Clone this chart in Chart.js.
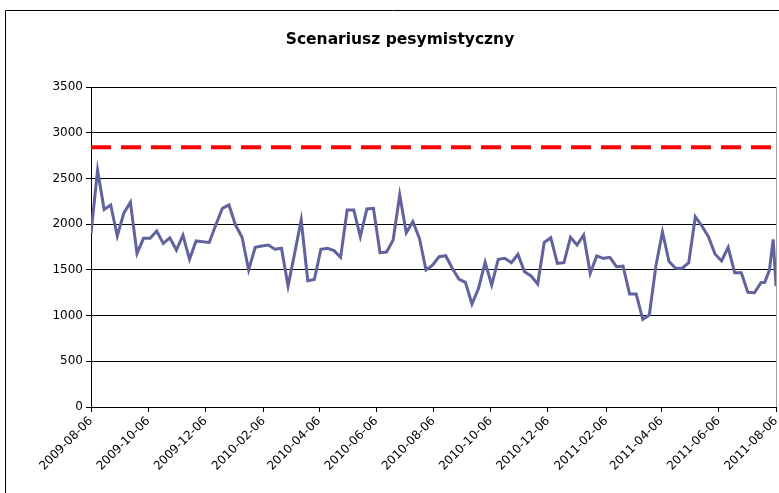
<!DOCTYPE html>
<html>
<head>
<meta charset="utf-8">
<script src="https://cdn.jsdelivr.net/npm/chart.js@4.4.1/dist/chart.umd.min.js"></script>
<style>
    html, body { margin: 0; padding: 0; background: #fff; }
    #wrap { width: 779px; height: 493px; position: relative; }
</style>
</head>
<body>
<div id="wrap"><canvas id="chart"></canvas></div>
<script>
const chartTitle = 'Scenariusz pesymistyczny';
const startDate = '2009-08-06';

// weekly values from 2009-08-06
const weeklyValues = [
    1900, 2590, 2160, 2210, 1870, 2120, 2240, 1680, 1845, 1845,
    1925, 1790, 1850, 1717, 1880, 1615, 1816, 1808, 1800, 1990,
    2173, 2210, 1990, 1856, 1498, 1747, 1761, 1772, 1725, 1736,
    1323, 1680, 2045, 1382, 1395, 1725, 1736, 1710, 1637, 2155,
    2155, 1863, 2166, 2173, 1688, 1695, 1827, 2319, 1907, 2027,
    1845, 1498, 1550, 1644, 1655, 1517, 1400, 1364, 1127, 1298,
    1583, 1334, 1615, 1626, 1579, 1670, 1480, 1433, 1345, 1800,
    1852, 1572, 1579, 1856, 1772, 1881, 1462, 1652, 1626, 1637,
    1535, 1542, 1236, 1236, 959, 1006, 1542, 1915, 1590, 1517,
    1517, 1579, 2081, 1980, 1863, 1673, 1597, 1747, 1469, 1469,
    1254, 1250, 1360,
];
// last few readings are not weekly
const tailDates = ['2011-07-25', '2011-07-30', '2011-08-03', '2011-08-06'];
const tailValues = [1364, 1498, 1834, 1323];

const limitValue = 2840;
const endDate = '2011-08-06';

const xTickLabels = [
    '2009-08-06', '2009-10-06', '2009-12-06', '2010-02-06', '2010-04-06',
    '2010-06-06', '2010-08-06', '2010-10-06', '2010-12-06', '2011-02-06',
    '2011-04-06', '2011-06-06', '2011-08-06',
];

const DAY = 86400000;
const toUtc = (s) => {
    const [y, m, d] = s.split('-').map(Number);
    return Date.UTC(y, m - 1, d);
};
const dayOf = (s) => Math.round((toUtc(s) - toUtc(startDate)) / DAY);

const series = weeklyValues.map((v, i) => ({ x: i * 7, y: v }))
    .concat(tailDates.map((d, i) => ({ x: dayOf(d), y: tailValues[i] })));

const limitLine = [
    { x: 0, y: limitValue },
    { x: dayOf(endDate), y: limitValue },
];

const tickFont = { family: '"DejaVu Sans", sans-serif', size: 12 };

const frame = {
    id: 'frame',
    beforeDraw(chart) {
        const { ctx, chartArea: a } = chart;
        ctx.save();
        ctx.fillStyle = '#fff';
        ctx.fillRect(0, 0, chart.width, chart.height);
        ctx.strokeStyle = '#000';
        ctx.lineWidth = 1;
        ctx.beginPath();
        ctx.moveTo(5.5, chart.height);
        ctx.lineTo(5.5, 10.5);
        ctx.lineTo(chart.width, 10.5);
        ctx.stroke();
        ctx.strokeStyle = '#a0a0a0';
        ctx.beginPath();
        ctx.moveTo(Math.round(a.right) + 0.5, a.top);
        ctx.lineTo(Math.round(a.right) + 0.5, a.bottom);
        ctx.stroke();
        ctx.fillStyle = '#000';
        ctx.font = 'bold 15.5px "DejaVu Sans", sans-serif';
        ctx.textAlign = 'center';
        ctx.textBaseline = 'middle';
        ctx.fillText(chartTitle, 400, 40);
        ctx.restore();
    },
};

new Chart(document.getElementById('chart'), {
    type: 'line',
    data: {
        datasets: [
            {
                data: series,
                borderColor: '#62629e',
                borderWidth: 3,
                pointRadius: 0,
                tension: 0,
            },
            {
                data: limitLine,
                borderColor: '#ff0000',
                borderWidth: 4,
                borderDash: [20, 10],
                pointRadius: 0,
            },
        ],
    },
    options: {
        responsive: true,
        maintainAspectRatio: false,
        animation: false,
        layout: { padding: { left: 6, right: 3, top: 87, bottom: 0 } },
        plugins: {
            legend: { display: false },
            tooltip: { enabled: false },
            title: { display: false },
        },
        scales: {
            x: {
                type: 'linear',
                min: 0,
                max: dayOf(endDate),
                afterBuildTicks: (s) => {
                    s.ticks = xTickLabels.map((l) => ({ value: dayOf(l) }));
                },
                afterFit: (s) => {
                    s.height = 86;
                    s.paddingLeft = 0;
                    s.paddingRight = 0;
                },
                grid: { drawOnChartArea: false, tickLength: 5, color: '#000' },
                border: { color: '#000' },
                ticks: {
                    autoSkip: false,
                    minRotation: 45,
                    maxRotation: 45,
                    padding: 2,
                    color: '#000',
                    font: tickFont,
                    callback: (v) => xTickLabels.find((l) => dayOf(l) === v) ?? '',
                },
            },
            y: {
                min: 0,
                max: 3500,
                afterFit: (s) => { s.width = 85; },
                grid: { color: '#000', tickLength: 5 },
                border: { color: '#000' },
                ticks: {
                    stepSize: 500,
                    padding: 3,
                    color: '#000',
                    font: tickFont,
                    callback: (v) => String(v),
                },
            },
        },
    },
    plugins: [frame],
});
</script>
</body>
</html>
